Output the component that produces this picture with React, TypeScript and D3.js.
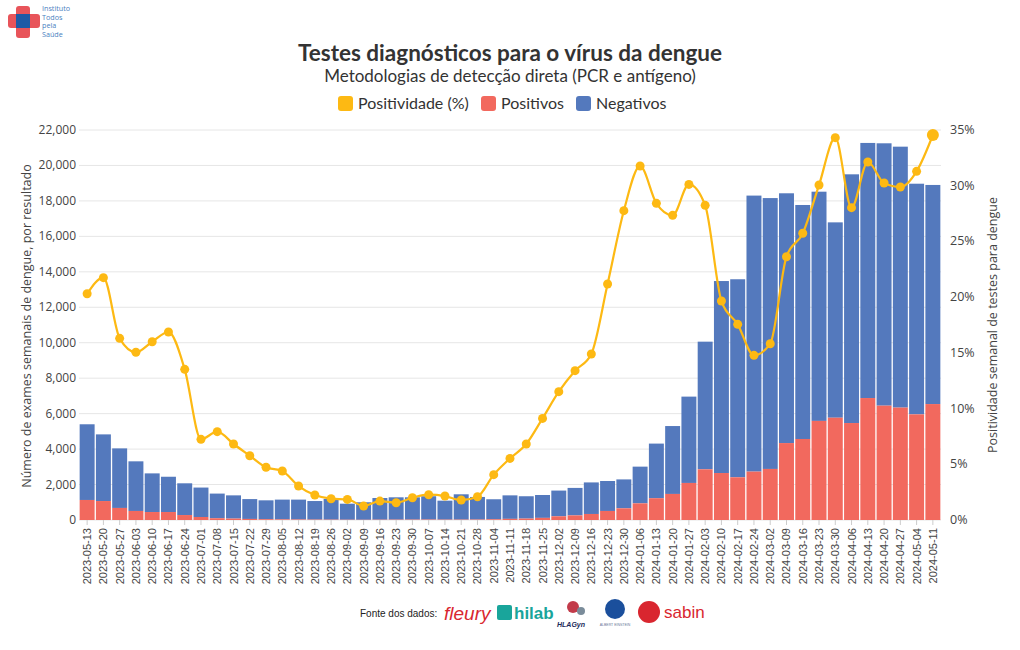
import React from "react";
import * as d3 from "d3";

const weeks = [
  "2023-05-13","2023-05-20","2023-05-27","2023-06-03","2023-06-10","2023-06-17","2023-06-24",
  "2023-07-01","2023-07-08","2023-07-15","2023-07-22","2023-07-29","2023-08-05","2023-08-12",
  "2023-08-19","2023-08-26","2023-09-02","2023-09-09","2023-09-16","2023-09-23","2023-09-30",
  "2023-10-07","2023-10-14","2023-10-21","2023-10-28","2023-11-04","2023-11-11","2023-11-18",
  "2023-11-25","2023-12-02","2023-12-09","2023-12-16","2023-12-23","2023-12-30","2024-01-06",
  "2024-01-13","2024-01-20","2024-01-27","2024-02-03","2024-02-10","2024-02-17","2024-02-24",
  "2024-03-02","2024-03-09","2024-03-16","2024-03-23","2024-03-30","2024-04-06","2024-04-13",
  "2024-04-20","2024-04-27","2024-05-04","2024-05-11"
];

const totals = [
  5400, 4830, 4040, 3310, 2630, 2440, 2070, 1830, 1490, 1390, 1180, 1110, 1150, 1150,
  1070, 1190, 920, 1000, 1240, 1280, 1280, 1340, 1090, 1450, 1300, 1170, 1390, 1340,
  1410, 1660, 1810, 2120, 2200, 2290, 3010, 4310, 5300, 6960, 10060, 13480, 13580, 18300,
  18160, 18430, 17770, 18520, 16790, 19500, 21270, 21250, 21060, 18970, 18900
];

const positives = [
  1130, 1070, 680, 510, 450, 450, 280, 170, 100, 80, 60, 45, 35, 28,
  22, 20, 15, 12, 18, 20, 22, 25, 20, 22, 25, 40, 65, 80,
  120, 210, 260, 340, 510, 660, 940, 1230, 1470, 2090, 2860, 2650, 2410, 2730,
  2880, 4340, 4570, 5590, 5770, 5470, 6880, 6450, 6340, 5960, 6540
];

const positivity = [
  20.3, 21.75, 16.3, 15.05, 16.0, 16.87, 13.52, 7.24, 7.93, 6.82, 5.77, 4.73, 4.4, 3.05,
  2.24, 1.91, 1.85, 1.26, 1.7, 1.55, 2.0, 2.27, 2.15, 1.79, 2.09, 4.07, 5.53, 6.82,
  9.12, 11.52, 13.4, 14.9, 21.18, 27.76, 31.77, 28.42, 27.34, 30.12, 28.24, 19.65, 17.56, 14.78,
  15.82, 23.63, 25.73, 30.06, 34.31, 28.03, 32.13, 30.24, 29.88, 31.29, 34.55
];

const leftTicks = [0, 2000, 4000, 6000, 8000, 10000, 12000, 14000, 16000, 18000, 20000, 22000];
const rightTicks = [0, 5, 10, 15, 20, 25, 30, 35];

const BLUE = "#5479BD";
const RED = "#F2695E";
const YELLOW = "#FDB913";

const W = 1020, H = 650;
const M = { left: 79, right: 941, top: 130, bottom: 520 };

export default function App() {
  const x = d3.scaleBand<string>().domain(weeks).range([M.left, M.right]).paddingInner(0.08).paddingOuter(0.04);
  const y = d3.scaleLinear().domain([0, 22000]).range([M.bottom, M.top]);
  const yr = d3.scaleLinear().domain([0, 35]).range([M.bottom, M.top]);
  const cx = (w: string) => (x(w) as number) + x.bandwidth() / 2;
  const line = d3.line<number>()
    .x((_, i) => cx(weeks[i]))
    .y((d) => yr(d))
    .curve(d3.curveMonotoneX);
  const tickFont = "'Open Sans', sans-serif";
  const fmt = d3.format(",");

  return (
    <svg width={W} height={H} style={{ display: "block", position: "absolute", left: 0, top: 0, background: "#fff" }}>
      {/* logo */}
      <g>
        <rect x={16} y={6} width={14} height={32} rx={3} fill="#E8545A" />
        <rect x={8} y={14} width={32} height={14} rx={3} fill="#E8545A" />
        <rect x={16} y={14} width={14} height={14} fill="#1F5AA6" />
        <g fontSize={7.2} fill="#4A7FC1" fontFamily="'Open Sans', sans-serif">
          <text x={42} y={11}>Instituto</text>
          <text x={42} y={19.5}>Todos</text>
          <text x={42} y={28}>pela</text>
          <text x={42} y={36.5}>Saúde</text>
        </g>
      </g>

      {/* title */}
      <text x={510} y={61} textAnchor="middle" fontSize={22.5} fontWeight={700} fill="#333" fontFamily="Lato, sans-serif">Testes diagnósticos para o vírus da dengue</text>
      <text x={510} y={82} textAnchor="middle" fontSize={17} fill="#333" fontFamily="Lato, sans-serif">Metodologias de detecção direta (PCR e antígeno)</text>

      {/* legend */}
      <g fontFamily="Lato, sans-serif" fontSize={16} fill="#333">
        <rect x={338} y={96} width={15} height={15} rx={3} fill={YELLOW} />
        <text x={358} y={109}>Positividade (%)</text>
        <rect x={481} y={96} width={15} height={15} rx={3} fill={RED} />
        <text x={501} y={109}>Positivos</text>
        <rect x={576} y={96} width={15} height={15} rx={3} fill={BLUE} />
        <text x={596} y={109}>Negativos</text>
      </g>

      {/* grid */}
      {leftTicks.map((t) => (
        <line key={"g" + t} x1={M.left} x2={M.right} y1={y(t)} y2={y(t)} stroke="#e6e6e6" strokeWidth={1} />
      ))}

      {/* left ticks */}
      {leftTicks.map((t) => (
        <text key={"l" + t} x={76} y={y(t) + 4} textAnchor="end" fontSize={12} fill="#444" fontFamily={tickFont}>{fmt(t)}</text>
      ))}
      {/* right ticks */}
      {rightTicks.map((t) => (
        <text key={"r" + t} x={950} y={yr(t) + 4} textAnchor="start" fontSize={12.5} fill="#444" fontFamily={tickFont}>{t + "%"}</text>
      ))}

      {/* axis titles */}
      <text transform={`translate(31,${(M.top + M.bottom) / 2 + 1}) rotate(-90)`} textAnchor="middle" fontSize={12.5} fill="#444" fontFamily="'Open Sans', sans-serif">Número de exames semanais de dengue, por resultado</text>
      <text transform={`translate(997,${(M.top + M.bottom) / 2}) rotate(-90)`} textAnchor="middle" fontSize={12.5} fill="#444" fontFamily="'Open Sans', sans-serif">Positividade semanal de testes para dengue</text>

      {/* bars */}
      {weeks.map((w, i) => {
        const bx = x(w) as number;
        const bw = x.bandwidth();
        return (
          <g key={w}>
            <rect x={bx} y={y(totals[i])} width={bw} height={y(positives[i]) - y(totals[i])} fill={BLUE} />
            <rect x={bx} y={y(positives[i])} width={bw} height={y(0) - y(positives[i])} fill={RED} />
          </g>
        );
      })}

      {/* x ticks */}
      {weeks.map((w) => (
        <g key={"t" + w}>
          <line x1={cx(w)} x2={cx(w)} y1={M.bottom} y2={M.bottom + 5} stroke="#ccc" />
          <text transform={`translate(${cx(w) + 4},${M.bottom + 8}) rotate(-90)`} textAnchor="end" fontSize={11} fill="#444" fontFamily="'Liberation Sans', Arial, sans-serif">{w}</text>
        </g>
      ))}

      {/* positivity line */}
      <path d={line(positivity) || ""} fill="none" stroke={YELLOW} strokeWidth={2.2} />
      {positivity.map((p, i) => (
        <circle key={"c" + i} cx={cx(weeks[i])} cy={yr(p)} r={i === positivity.length - 1 ? 6 : 4.5} fill={YELLOW} />
      ))}

      {/* footer */}
      <g>
        <text x={360} y={617} fontSize={10} fill="#222" fontFamily="'Liberation Sans', Arial, sans-serif">Fonte dos dados:</text>
        <text x={444} y={620} fontSize={19} fill="#D9262F" fontStyle="italic" fontFamily="'Liberation Sans', Arial, sans-serif">fleury</text>
        <rect x={497} y={605} width={15} height={15} rx={2} fill="#19A59B" />
        <text x={514} y={619} fontSize={17} fontWeight={700} fill="#19A59B" fontFamily="'Liberation Sans', Arial, sans-serif">hilab</text>
        <circle cx={573} cy={607} r={6} fill="#C23B4A" />
        <circle cx={581} cy={611} r={4} fill="#7A8C9A" />
        <text x={557} y={627} fontSize={7} fontWeight={700} fontStyle="italic" fill="#1B2A5A" fontFamily="'Liberation Sans', Arial, sans-serif">HLAGyn</text>
        <circle cx={615} cy={609} r={10} fill="#1B4F9C" />
        <text x={615} y={626} fontSize={3.5} textAnchor="middle" fill="#6b7a99" fontFamily="'Liberation Sans', Arial, sans-serif">ALBERT EINSTEIN</text>
        <circle cx={649} cy={612} r={11} fill="#D9262F" />
        <text x={664} y={618} fontSize={17} fill="#D9262F" fontFamily="'Liberation Sans', Arial, sans-serif">sabin</text>
      </g>
    </svg>
  );
}
